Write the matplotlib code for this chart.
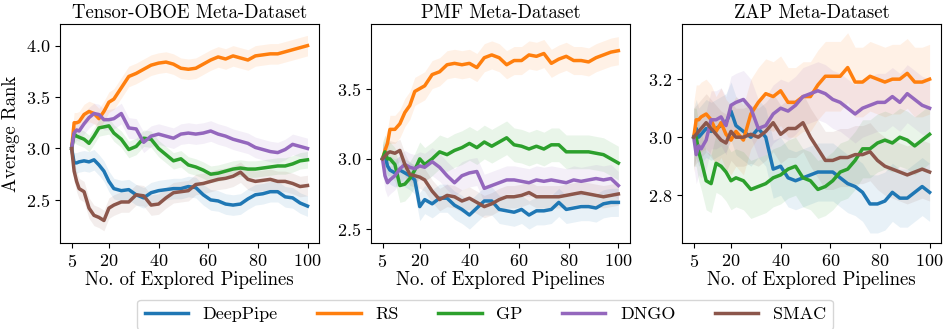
import matplotlib
matplotlib.use("Agg")
import numpy as np
import matplotlib.pyplot as plt

plt.rcParams["font.family"] = "serif"
plt.rcParams["font.serif"] = ["cmr10", "DejaVu Serif"]
plt.rcParams["mathtext.fontset"] = "cm"
plt.rcParams["axes.formatter.use_mathtext"] = True

# explored pipelines (x grid shared by all curves)
X = [5, 6, 7, 8, 10, 12, 14, 16, 18, 20, 22, 25, 28, 31, 34, 37, 40, 43, 46, 49,
     52, 55, 58, 61, 64, 67, 70, 73, 76, 79, 82, 85, 88, 91, 94, 97, 100]

METHODS = ["DeepPipe", "RS", "GP", "DNGO", "SMAC"]
COLORS = ["#1f77b4", "#ff7f0e", "#2ca02c", "#9467bd", "#8c564b"]
TITLES = ["Tensor-OBOE Meta-Dataset", "PMF Meta-Dataset", "ZAP Meta-Dataset"]

# --- Tensor-OBOE ---
oboe_deeppipe = [3.0, 2.86, 2.86, 2.87, 2.88, 2.87, 2.89, 2.84, 2.78, 2.68, 2.61, 2.59, 2.60, 2.55, 2.52, 2.57, 2.59, 2.60, 2.61, 2.61,
                 2.63, 2.62, 2.55, 2.50, 2.49, 2.46, 2.45, 2.46, 2.51, 2.55, 2.56, 2.58, 2.58, 2.53, 2.52, 2.47, 2.44]
oboe_rs = [3.0, 3.25, 3.25, 3.26, 3.33, 3.36, 3.34, 3.29, 3.36, 3.45, 3.48, 3.59, 3.70, 3.73, 3.77, 3.81, 3.83, 3.84, 3.82, 3.78,
           3.77, 3.78, 3.82, 3.86, 3.89, 3.87, 3.90, 3.88, 3.86, 3.90, 3.91, 3.92, 3.92, 3.94, 3.96, 3.98, 4.00]
oboe_gp = [3.0, 3.14, 3.12, 3.11, 3.09, 3.05, 3.12, 3.20, 3.21, 3.22, 3.15, 3.09, 2.99, 3.02, 3.10, 3.09, 3.00, 2.94, 2.88, 2.90,
           2.84, 2.82, 2.79, 2.75, 2.76, 2.78, 2.80, 2.81, 2.80, 2.80, 2.81, 2.82, 2.83, 2.83, 2.85, 2.88, 2.89]
oboe_dngo = [3.0, 3.15, 3.18, 3.17, 3.24, 3.30, 3.34, 3.33, 3.28, 3.28, 3.29, 3.34, 3.20, 3.19, 3.06, 3.12, 3.14, 3.12, 3.10, 3.14,
             3.15, 3.14, 3.15, 3.17, 3.14, 3.12, 3.09, 3.07, 3.05, 3.01, 2.99, 2.97, 2.96, 2.99, 3.04, 3.02, 3.00]
oboe_smac = [3.0, 2.78, 2.68, 2.61, 2.58, 2.42, 2.35, 2.33, 2.30, 2.42, 2.45, 2.48, 2.48, 2.55, 2.54, 2.45, 2.46, 2.52, 2.57, 2.58,
             2.59, 2.65, 2.66, 2.68, 2.70, 2.71, 2.73, 2.77, 2.70, 2.68, 2.69, 2.70, 2.68, 2.68, 2.66, 2.63, 2.64]
oboe_band = [0.10, 0.10, 0.08, 0.10, 0.10]

# --- PMF ---
pmf_deeppipe = [3.0, 3.03, 2.95, 2.92, 2.90, 2.92, 2.90, 2.88, 2.85, 2.66, 2.71, 2.68, 2.72, 2.72, 2.67, 2.64, 2.60, 2.65, 2.70, 2.70,
                2.64, 2.63, 2.62, 2.64, 2.60, 2.63, 2.63, 2.64, 2.69, 2.64, 2.65, 2.66, 2.66, 2.65, 2.68, 2.69, 2.69]
pmf_rs = [3.0, 3.06, 3.11, 3.21, 3.21, 3.25, 3.33, 3.38, 3.48, 3.50, 3.52, 3.60, 3.62, 3.67, 3.68, 3.67, 3.68, 3.65, 3.72, 3.74,
          3.72, 3.67, 3.70, 3.70, 3.74, 3.73, 3.75, 3.68, 3.71, 3.73, 3.70, 3.70, 3.69, 3.72, 3.74, 3.76, 3.77]
pmf_gp = [3.0, 3.05, 3.00, 3.00, 2.96, 2.81, 2.82, 2.86, 2.92, 3.00, 2.96, 3.00, 3.05, 3.03, 3.06, 3.08, 3.11, 3.08, 3.12, 3.09,
          3.12, 3.15, 3.10, 3.09, 3.07, 3.09, 3.07, 3.10, 3.10, 3.05, 3.05, 3.05, 3.05, 3.04, 3.03, 3.00, 2.97]
pmf_dngo = [3.0, 2.88, 2.83, 2.85, 2.88, 2.93, 2.96, 2.94, 2.93, 2.95, 2.94, 2.98, 2.94, 2.88, 2.83, 2.88, 2.90, 2.91, 2.79, 2.81,
            2.83, 2.85, 2.85, 2.84, 2.83, 2.85, 2.84, 2.85, 2.84, 2.83, 2.85, 2.84, 2.85, 2.86, 2.85, 2.86, 2.81]
pmf_smac = [3.0, 3.02, 3.04, 3.05, 3.04, 3.06, 2.96, 2.89, 2.88, 2.87, 2.85, 2.77, 2.71, 2.74, 2.73, 2.70, 2.72, 2.69, 2.66, 2.68,
            2.71, 2.73, 2.73, 2.74, 2.76, 2.73, 2.73, 2.73, 2.73, 2.74, 2.75, 2.76, 2.75, 2.74, 2.73, 2.74, 2.75]
pmf_band = [0.10, 0.10, 0.12, 0.10, 0.08]

# --- ZAP ---
zap_deeppipe = [3.0, 3.03, 3.00, 3.01, 3.03, 3.02, 3.03, 3.04, 3.05, 3.09, 3.04, 3.02, 3.00, 3.03, 3.00, 2.89, 2.90, 2.86, 2.85, 2.86,
                2.87, 2.88, 2.88, 2.88, 2.86, 2.84, 2.83, 2.81, 2.77, 2.77, 2.78, 2.81, 2.79, 2.79, 2.81, 2.83, 2.81]
zap_rs = [3.0, 3.06, 3.06, 3.07, 3.08, 3.06, 3.02, 3.05, 3.01, 2.99, 3.02, 2.99, 3.08, 3.12, 3.15, 3.14, 3.16, 3.12, 3.12, 3.14,
          3.14, 3.18, 3.21, 3.21, 3.21, 3.24, 3.19, 3.19, 3.21, 3.20, 3.19, 3.20, 3.20, 3.22, 3.19, 3.19, 3.20]
zap_gp = [3.0, 3.00, 2.95, 2.92, 2.85, 2.84, 2.91, 2.90, 2.88, 2.85, 2.86, 2.85, 2.82, 2.83, 2.84, 2.86, 2.87, 2.89, 2.90, 2.86,
          2.85, 2.82, 2.83, 2.85, 2.88, 2.89, 2.92, 2.96, 2.96, 2.98, 2.99, 2.98, 3.00, 2.99, 2.97, 2.99, 3.01]
zap_dngo = [3.0, 2.94, 2.97, 2.96, 2.99, 3.06, 3.06, 3.07, 3.04, 3.11, 3.12, 3.13, 3.10, 3.03, 3.04, 3.08, 3.10, 3.09, 3.11, 3.14,
            3.15, 3.16, 3.15, 3.13, 3.12, 3.10, 3.08, 3.10, 3.11, 3.12, 3.12, 3.14, 3.12, 3.15, 3.13, 3.11, 3.10]
zap_smac = [3.0, 3.01, 3.02, 3.03, 3.05, 3.03, 3.01, 2.99, 2.98, 3.02, 3.00, 3.00, 3.01, 3.00, 3.02, 3.05, 3.01, 3.03, 3.03, 3.05,
            3.00, 2.96, 2.92, 2.92, 2.93, 2.93, 2.94, 2.94, 2.95, 2.92, 2.90, 2.89, 2.88, 2.87, 2.88, 2.89, 2.88]
zap_band = [0.10, 0.12, 0.10, 0.10, 0.10]

panels = [
    ([oboe_deeppipe, oboe_rs, oboe_gp, oboe_dngo, oboe_smac], oboe_band, (2.08, 4.21), [2.5, 3.0, 3.5, 4.0]),
    ([pmf_deeppipe, pmf_rs, pmf_gp, pmf_dngo, pmf_smac], pmf_band, (2.40, 3.96), [2.5, 3.0, 3.5]),
    ([zap_deeppipe, zap_rs, zap_gp, zap_dngo, zap_smac], zap_band, (2.635, 3.39), [2.8, 3.0, 3.2]),
]

fig = plt.figure(figsize=(9.46, 3.29), dpi=100)
lefts = [0.0634, 0.392, 0.721]
width = 0.274
x = np.array(X)
handles = []
for i, (series, band, ylim, yticks) in enumerate(panels):
    ax = fig.add_axes([lefts[i], 0.261, width, 0.666])
    for k, ys in enumerate(series):
        ys = np.array(ys)
        ax.fill_between(x, ys - band[k], ys + band[k], color=COLORS[k], alpha=0.1, linewidth=0)
        ln, = ax.plot(x, ys, color=COLORS[k], lw=2.5, label=METHODS[k])
        if i == 0:
            handles.append(ln)
    ax.set_xlim(0.3, 104.7)
    ax.set_ylim(*ylim)
    ax.set_xticks([5, 20, 40, 60, 80, 100])
    ax.set_yticks(yticks)
    ax.tick_params(labelsize=13)
    ax.set_title(TITLES[i], fontsize=13.5, pad=4)
    ax.set_xlabel("No. of Explored Pipelines", fontsize=13.5, labelpad=1)
    if i == 0:
        ax.set_ylabel("Average Rank", fontsize=13.5)

fig.legend(handles=handles, loc="upper center", bbox_to_anchor=(0.513, 0.117), ncol=5,
           fontsize=13, handlelength=2.4, columnspacing=2.2, frameon=True)

fig.savefig("out.png", dpi=100)
